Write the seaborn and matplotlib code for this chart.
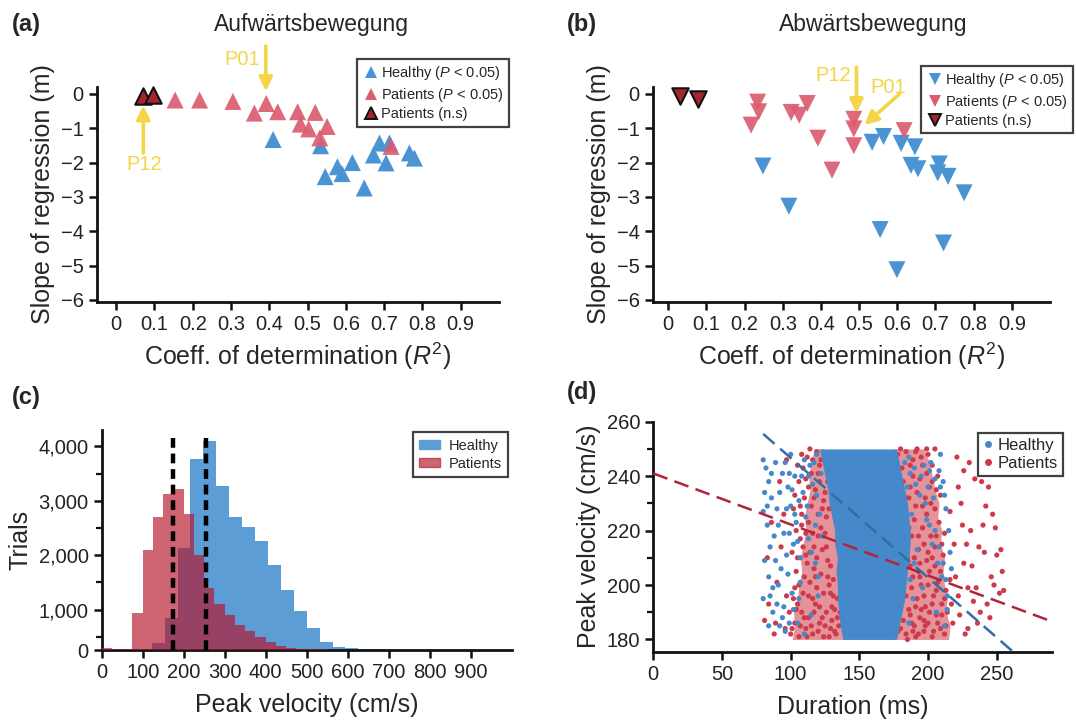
import matplotlib
matplotlib.use("Agg")
import numpy as np
import pandas as pd
import seaborn as sns
import matplotlib.pyplot as plt
from matplotlib.ticker import MultipleLocator, FixedLocator
from matplotlib.lines import Line2D
from matplotlib.patches import Patch

# ---------------- data ----------------
# (a) Aufwärtsbewegung: R^2 and slope per subject
a_healthy_r2 = [0.41, 0.534, 0.688, 0.714, 0.672, 0.705, 0.766, 0.779, 0.617, 0.578, 0.590, 0.546, 0.648]
a_healthy_m = [-1.33, -1.51, -1.43, -1.43, -1.78, -2.01, -1.72, -1.87, -2.00, -2.12, -2.32, -2.41, -2.74]
a_patients_r2 = [0.154, 0.218, 0.305, 0.392, 0.361, 0.422, 0.474, 0.520, 0.481, 0.503, 0.551, 0.532, 0.718]
a_patients_m = [-0.18, -0.18, -0.22, -0.28, -0.56, -0.52, -0.52, -0.54, -0.88, -1.02, -0.95, -1.28, -1.53]
a_ns_r2 = [0.071, 0.096]
a_ns_m = [-0.06, -0.02]

# (b) Abwärtsbewegung
b_healthy_r2 = [0.248, 0.316, 0.534, 0.564, 0.610, 0.646, 0.636, 0.654, 0.710, 0.706, 0.733, 0.775, 0.555, 0.721, 0.599]
b_healthy_m = [-2.10, -3.27, -1.41, -1.24, -1.44, -1.54, -2.08, -2.18, -2.04, -2.30, -2.40, -2.88, -3.95, -4.34, -5.12]
b_patients_r2 = [0.234, 0.237, 0.217, 0.322, 0.343, 0.364, 0.392, 0.486, 0.486, 0.486, 0.429, 0.618]
b_patients_m = [-0.24, -0.52, -0.91, -0.54, -0.62, -0.28, -1.29, -0.74, -1.02, -1.51, -2.22, -1.07]
b_ns_r2 = [0.030, 0.078]
b_ns_m = [-0.05, -0.15]

r2_ticks = [0, 0.1, 0.2, 0.3, 0.4, 0.5, 0.6, 0.7, 0.8, 0.9]
r2_tick_labels = ["0", "0.1", "0.2", "0.3", "0.4", "0.5", "0.6", "0.7", "0.8", "0.9"]
slope_ticks = [0, -1, -2, -3, -4, -5, -6]

# (c) histogram of peak velocity (trials per bin)
healthy_edges = [90.5, 122, 153.5, 185, 216.5, 248, 279.5, 311, 342.5, 374, 405.5, 437,
                 468.5, 500, 531.5, 563, 594.5, 626, 657.5, 689]
healthy_counts = [270, 390, 845, 2140, 3770, 4100, 3280, 2710, 2520, 2265, 1830, 1365,
                  985, 655, 400, 310, 295, 285, 275]
patients_edges = [0, 25, 50, 75, 100, 125, 150, 175, 200, 225, 250, 275, 300, 325, 350,
                  375, 400, 425, 450, 475, 500, 525, 550]
patients_counts = [290, 275, 275, 935, 2100, 2700, 3125, 3215, 2760, 2000, 1390, 1110, 900,
                   720, 600, 495, 400, 340, 300, 285, 275, 270]
velocity_means = [175, 255]
vel_ticks = [0, 100, 200, 300, 400, 500, 600, 700, 800, 900]
trial_ticks = [260, 1000, 2000, 3000, 4000]
trial_tick_labels = ["0", "1,000", "2,000", "3,000", "4,000"]

# (d) duration vs peak velocity
# dense healthy core (outline)
healthy_core_vel = [180, 185, 190, 195, 200, 205, 210, 215, 220, 225, 230, 235, 240, 245, 250]
healthy_core_left = [138, 136, 135, 134, 134, 133, 134, 132, 132, 130, 128, 127, 125, 123, 121]
healthy_core_right = [177, 179, 181, 183, 184, 185, 186, 187, 187, 186, 185, 183, 181, 179, 177]
# dense patient bands (outline)
patients_band_vel = [180, 185, 190, 195, 200, 205, 210, 215, 220, 225, 230, 235, 240, 245, 250]
patients_band1_left = [101, 103, 102, 105, 106, 108, 107, 109, 111, 110, 112, 114, 113, 115, 117]
patients_band1_right = [140, 139, 138, 137, 137, 136, 136, 135, 134, 132, 131, 129, 128, 126, 124]
patients_band2_left = [175, 177, 179, 181, 182, 183, 184, 185, 185, 184, 183, 181, 179, 177, 175]
patients_band2_right = [215, 216, 213, 214, 212, 211, 212, 209, 210, 207, 208, 205, 203, 201, 197]

healthy_pts = [(80, 246), (82, 243), (84, 238), (86, 232), (80, 227), (83, 222), (85, 214), (81, 209),
               (88, 218), (90, 228), (92, 234), (94, 241), (96, 245), (98, 236), (100, 229), (89, 209),
               (91, 200), (85, 196), (80, 195), (87, 190), (92, 185), (95, 192), (98, 204), (102, 215),
               (104, 223), (106, 231), (108, 240), (110, 246), (100, 248), (114, 244), (116, 237),
               (112, 229), (118, 222), (103, 240), (99, 219), (97, 211), (105, 186), (110, 182),
               (115, 189), (120, 196), (122, 241), (119, 248), (107, 201), (113, 217), (101, 197),
               (81, 234), (83, 229), (86, 241), (89, 245), (91, 222), (93, 206), (95, 219), (97, 228),
               (99, 241), (101, 235), (103, 226), (105, 216), (107, 210), (109, 234), (111, 225),
               (113, 240), (115, 212), (117, 245), (119, 233), (121, 226), (123, 218), (84, 203),
               (87, 199), (90, 193), (94, 188), (96, 183), (99, 186), (102, 191), (106, 195), (84, 185),
               (118, 208), (120, 203),
               (186, 247), (190, 243), (195, 240), (200, 236), (204, 232), (208, 242), (211, 238),
               (213, 228), (199, 224), (203, 215), (207, 208), (210, 203), (214, 196), (212, 185),
               (206, 190), (196, 199), (192, 213), (188, 226), (185, 236), (215, 220), (209, 248),
               (202, 245), (193, 205), (189, 195), (184, 218), (217, 206),
               (183, 245), (187, 241), (191, 237), (194, 233), (197, 244), (201, 242), (205, 239),
               (209, 236), (212, 233), (198, 230), (201, 222), (205, 220), (208, 214), (211, 208),
               (213, 202), (216, 212), (190, 208), (187, 202), (186, 186), (214, 191)]

patients_pts = [(100, 182), (103, 186), (106, 181), (108, 190), (111, 184), (113, 188), (116, 182),
                (118, 193), (121, 186), (124, 181), (126, 190), (129, 184), (131, 196), (134, 188),
                (109, 197), (114, 201), (119, 199), (104, 205), (112, 208), (122, 204), (127, 209),
                (117, 214), (107, 217), (125, 219), (113, 223), (120, 226), (102, 228), (110, 232),
                (118, 235), (124, 231), (106, 238), (115, 241), (121, 244), (112, 247), (119, 249),
                (109, 243), (127, 238), (123, 213), (116, 195), (105, 193), (128, 200), (132, 183),
                (99, 190), (101, 212), (115, 229), (120, 218), (111, 211), (126, 225), (108, 222),
                (117, 206), (130, 192), (103, 199), (122, 246), (96, 184), (97, 196),
                (101, 184), (104, 191), (107, 185), (110, 188), (112, 181), (115, 185), (117, 190),
                (120, 183), (123, 188), (125, 185), (128, 181), (130, 187), (133, 182), (135, 185),
                (102, 195), (106, 200), (110, 203), (113, 196), (118, 203), (121, 192), (124, 197),
                (127, 203), (129, 197), (132, 191), (105, 210), (109, 214), (114, 212), (119, 210),
                (122, 221), (126, 214), (129, 207), (104, 220), (108, 226), (111, 219), (116, 219),
                (123, 228), (103, 233), (107, 229), (113, 236), (117, 232), (121, 238), (125, 234),
                (105, 244), (111, 239), (116, 246), (120, 241), (114, 250), (108, 248), (128, 228),
                (131, 202), (134, 195), (136, 190), (126, 244),
                (176, 181), (180, 184), (184, 182), (188, 186), (191, 181), (194, 188), (197, 183),
                (200, 186), (203, 181), (206, 189), (209, 184), (212, 182), (186, 191), (192, 195),
                (198, 192), (204, 196), (210, 193), (182, 198), (189, 203), (195, 200), (201, 205),
                (207, 201), (213, 198), (185, 210), (193, 213), (199, 209), (205, 214), (211, 211),
                (188, 218), (196, 221), (202, 218), (208, 223), (183, 226), (191, 229), (198, 232),
                (205, 228), (187, 236), (194, 239), (201, 236), (181, 243), (189, 246), (196, 244),
                (184, 249), (192, 250), (178, 248), (200, 248), (207, 240), (186, 232), (178, 214),
                (180, 205), (214, 190), (216, 202), (212, 219), (209, 233), (175, 190), (174, 200),
                (203, 244), (197, 187), (189, 183), (205, 207),
                (178, 183), (182, 187), (185, 180), (187, 189), (190, 185), (193, 182), (195, 191),
                (198, 185), (201, 190), (204, 183), (207, 186), (210, 189), (213, 185), (181, 194),
                (184, 196), (188, 199), (191, 192), (194, 203), (197, 196), (200, 200), (203, 193),
                (206, 198), (209, 205), (212, 195), (187, 207), (190, 210), (194, 208), (197, 215),
                (200, 212), (203, 210), (206, 218), (210, 215), (186, 221), (190, 224), (193, 218),
                (199, 226), (202, 230), (206, 235), (184, 232), (189, 240), (192, 234), (196, 229),
                (199, 241), (203, 238), (187, 244), (191, 249), (195, 247), (182, 238), (180, 250),
                (199, 250), (205, 250), (179, 222), (181, 208), (177, 196),
                (218, 186), (222, 196), (226, 208), (229, 184), (231, 220), (235, 199), (238, 190),
                (241, 212), (244, 236), (247, 226), (250, 211), (253, 213), (252, 197), (246, 203),
                (239, 238), (230, 245), (221, 247), (224, 230), (233, 194), (227, 182), (236, 186),
                (243, 193), (219, 215), (216, 227), (228, 215), (240, 222), (255, 198), (248, 200),
                (217, 193), (220, 203), (223, 189), (225, 222), (232, 207), (237, 214), (242, 229),
                (234, 239), (226, 242), (245, 188), (249, 221), (254, 205), (222, 236), (229, 199),
                (81, 187), (84, 193), (88, 182), (90, 201), (93, 214), (95, 226), (86, 223), (92, 238),
                (97, 246), (83, 210), (89, 186)]

# regression fits: intercept, slope, x-range
healthy_fit = [290.7, -0.44]
healthy_fit_range = [80, 262]
patients_fit = [241.0, -0.1875]
patients_fit_range = [0, 290]

dur_ticks = [0, 50, 100, 150, 200, 250]
pv_ticks = [180, 200, 220, 240, 260]

# ---------------- style ----------------
sns.set_style("ticks")
plt.rcParams["font.family"] = ["Liberation Sans", "DejaVu Sans"]
plt.rcParams["mathtext.fontset"] = "custom"
plt.rcParams["mathtext.rm"] = "Liberation Sans"
plt.rcParams["mathtext.it"] = "Liberation Sans:italic"
plt.rcParams["axes.unicode_minus"] = True

BLUE = "#4A94D3"
RED = "#DA5C70"
DARK = "#A3262F"
YELLOW = "#F4D548"
H_BLUE = "#5C9DD5"
H_RED = "#B6142A"
S_BLUE = "#4689CA"
S_RED = "#CF3A4A"

fig = plt.figure(figsize=(10.76, 7.22), dpi=100)
W, H = 1076.0, 722.0
ax_a = fig.add_axes([97 / W, 1 - 301.7 / H, 402 / W, 214.7 / H])
ax_b = fig.add_axes([653 / W, 1 - 301.7 / H, 397 / W, 214.7 / H])
ax_c = fig.add_axes([101.7 / W, 1 - 650 / H, 410 / W, 220 / H])
ax_d = fig.add_axes([653.3 / W, 1 - 651.7 / H, 398.4 / W, 230 / H])


def style(ax):
    for s in ["top", "right"]:
        ax.spines[s].set_visible(False)
    for s in ["left", "bottom"]:
        ax.spines[s].set_linewidth(2.0)
        ax.spines[s].set_color("#111111")
    ax.tick_params(which="major", direction="out", length=6, width=1.8,
                   labelsize=14.5, color="#111111", labelcolor="#222222")
    ax.tick_params(which="minor", direction="out", length=4, width=1.6, color="#111111")


def legend_box(leg):
    fr = leg.get_frame()
    fr.set_edgecolor("#111111")
    fr.set_linewidth(1.6)
    fr.set_boxstyle("square", pad=0)


# ---------------- (a) and (b) ----------------
for ax, hx, hy, px, py, nx, ny, mk in [
    (ax_a, a_healthy_r2, a_healthy_m, a_patients_r2, a_patients_m, a_ns_r2, a_ns_m, "^"),
    (ax_b, b_healthy_r2, b_healthy_m, b_patients_r2, b_patients_m, b_ns_r2, b_ns_m, "v"),
]:
    sns.scatterplot(x=hx, y=hy, marker=mk, s=150, color=BLUE, edgecolor="none",
                    ax=ax, clip_on=False, zorder=3)
    sns.scatterplot(x=px, y=py, marker=mk, s=150, color=RED, edgecolor="none", alpha=0.92,
                    ax=ax, clip_on=False, zorder=4)
    sns.scatterplot(x=nx, y=ny, marker=mk, s=140, color=DARK, edgecolor="#111111",
                    linewidth=1.5, ax=ax, clip_on=False, zorder=5)
    style(ax)
    ax.set_xlim(-0.05 if mk == "^" else -0.04, 1.0)
    ax.set_ylim(-6.05, 0.2)
    ax.set_xticks(r2_ticks)
    ax.set_xticklabels(r2_tick_labels)
    ax.set_yticks(slope_ticks)
    ax.set_xlabel(r"Coeff. of determination ($\it{R}^2$)", fontsize=18, labelpad=5)
    ax.set_ylabel("Slope of regression (m)", fontsize=18, labelpad=4)
    handles = [
        Line2D([], [], marker=mk, ls="none", color=BLUE, markersize=9, markeredgewidth=0),
        Line2D([], [], marker=mk, ls="none", color=RED, markersize=9, markeredgewidth=0),
        Line2D([], [], marker=mk, ls="none", markerfacecolor=DARK, markeredgecolor="#111111",
               markersize=8.5, markeredgewidth=1.4),
    ]
    labels = [r"Healthy ($\it{P}$ < 0.05)", r"Patients ($\it{P}$ < 0.05)", "Patients (n.s)"]
    anchor = (1.025, 1.13) if mk == "^" else (1.058, 1.098)
    leg = ax.legend(handles, labels, loc="upper right", bbox_to_anchor=anchor, fontsize=10.5,
                    frameon=True, fancybox=False, borderaxespad=0, handletextpad=0.1,
                    handlelength=1.2, labelspacing=0.25, borderpad=0.35)
    legend_box(leg)

# annotations
arrow_kw = dict(arrowstyle="-|>", color=YELLOW, lw=2.6, mutation_scale=20, shrinkA=0, shrinkB=0)
ax_a.annotate("", xy=(0.391, 0.08), xytext=(0.391, 1.39), arrowprops=arrow_kw,
              annotation_clip=False, zorder=6)
ax_a.text(0.328, 1.0, "P01", color=YELLOW, fontsize=14.5, ha="center", va="center", clip_on=False)
ax_a.annotate("", xy=(0.071, -0.34), xytext=(0.071, -1.72), arrowprops=arrow_kw,
              annotation_clip=False, zorder=6)
ax_a.text(0.0725, -2.06, "P12", color=YELLOW, fontsize=14.5, ha="center", va="center", clip_on=False)
ax_b.annotate("", xy=(0.493, -0.556), xytext=(0.493, 0.78), arrowprops=arrow_kw,
              annotation_clip=False, zorder=6)
ax_b.text(0.431, 0.54, "P12", color=YELLOW, fontsize=14.5, ha="center", va="center", clip_on=False)
ax_b.annotate("", xy=(0.514, -0.906), xytext=(0.606, 0.0), arrowprops=arrow_kw,
              annotation_clip=False, zorder=6)
ax_b.text(0.575, 0.19, "P01", color=YELLOW, fontsize=14.5, ha="center", va="center", clip_on=False)

# ---------------- (c) ----------------
h_centers = [(healthy_edges[i] + healthy_edges[i + 1]) / 2 for i in range(len(healthy_counts))]
p_centers = [(patients_edges[i] + patients_edges[i + 1]) / 2 for i in range(len(patients_counts))]
sns.histplot(x=h_centers, weights=healthy_counts, bins=healthy_edges, color=H_BLUE, alpha=1.0,
             linewidth=0, edgecolor="none", ax=ax_c, zorder=2)
sns.histplot(x=p_centers, weights=patients_counts, bins=patients_edges, color=H_RED, alpha=0.66,
             linewidth=0, edgecolor="none", ax=ax_c, zorder=3)
ax_c.vlines(velocity_means, 260, 4190, colors="black", linestyles=(0, (2.2, 1.3)), lw=3.2, zorder=4)
style(ax_c)
ax_c.set_xlim(0, 1000)
ax_c.set_ylim(260, 4300)
ax_c.set_xticks(vel_ticks)
ax_c.yaxis.set_major_locator(FixedLocator(trial_ticks))
ax_c.set_yticklabels(trial_tick_labels)
ax_c.yaxis.set_minor_locator(FixedLocator([500, 1500, 2500, 3500]))
ax_c.set_xlabel("Peak velocity (cm/s)", fontsize=18, labelpad=8)
ax_c.set_ylabel("Trials", fontsize=18, labelpad=4)
leg = ax_c.legend([Patch(color=H_BLUE), Patch(color=H_RED, alpha=0.66)], ["Healthy", "Patients"],
                  loc="upper right", bbox_to_anchor=(0.991, 0.991), fontsize=10.5, frameon=True,
                  fancybox=False, borderaxespad=0, handlelength=1.4, handleheight=0.6,
                  handletextpad=0.6, labelspacing=0.3, borderpad=0.45)
legend_box(leg)

# ---------------- (d) ----------------
ax_d.fill_betweenx(patients_band_vel, patients_band1_left, patients_band1_right, color=S_RED,
                   alpha=0.55, linewidth=0, zorder=1)
ax_d.fill_betweenx(patients_band_vel, patients_band2_left, patients_band2_right, color=S_RED,
                   alpha=0.55, linewidth=0, zorder=1)
pdf = pd.DataFrame(patients_pts, columns=["dur", "vel"])
hdf = pd.DataFrame(healthy_pts, columns=["dur", "vel"])
sns.scatterplot(data=pdf, x="dur", y="vel", s=14, color=S_RED, edgecolor="none", ax=ax_d, zorder=2)
sns.scatterplot(data=hdf, x="dur", y="vel", s=14, color=S_BLUE, edgecolor="none", ax=ax_d, zorder=3)
ax_d.fill_betweenx(healthy_core_vel, healthy_core_left, healthy_core_right, color=S_BLUE,
                   linewidth=0, zorder=4)
hx = np.array(healthy_fit_range)
px = np.array(patients_fit_range)
sns.lineplot(x=hx, y=healthy_fit[0] + healthy_fit[1] * hx, color="#2F6EA8", lw=1.8,
             ax=ax_d, zorder=5).lines[-1].set_dashes([6, 3])
sns.lineplot(x=px, y=patients_fit[0] + patients_fit[1] * px, color="#B02538", lw=1.8,
             ax=ax_d, zorder=5).lines[-1].set_dashes([6, 3])
style(ax_d)
ax_d.set_xlim(0, 290)
ax_d.set_ylim(175.5, 260)
ax_d.set_xticks(dur_ticks)
ax_d.set_yticks(pv_ticks)
ax_d.yaxis.set_minor_locator(MultipleLocator(10))
ax_d.set_xlabel("Duration (ms)", fontsize=18, labelpad=8)
ax_d.set_ylabel("Peak velocity (cm/s)", fontsize=18, labelpad=4)
leg = ax_d.legend([Line2D([], [], marker="o", ls="none", color=S_BLUE, markersize=4),
                   Line2D([], [], marker="o", ls="none", color=S_RED, markersize=4)],
                  ["Healthy", "Patients"], loc="upper right", bbox_to_anchor=(1.028, 0.951),
                  fontsize=12, frameon=True, fancybox=False, borderaxespad=0, handlelength=0.6,
                  handletextpad=0.3, labelspacing=0.2, borderpad=0.3)
legend_box(leg)

# ---------------- titles / panel labels ----------------
fig.text(311 / W, 1 - 24 / H, "Aufwärtsbewegung", ha="center", va="center", fontsize=16.5)
fig.text(873 / W, 1 - 24 / H, "Abwärtsbewegung", ha="center", va="center", fontsize=16.5)
for lab, x, y in [("(a)", 12, 25), ("(b)", 567, 25), ("(c)", 12, 398), ("(d)", 567, 393)]:
    fig.text(x / W, 1 - y / H, lab, ha="left", va="center", fontsize=17, fontweight="bold")

fig.savefig("out.png", dpi=100)
